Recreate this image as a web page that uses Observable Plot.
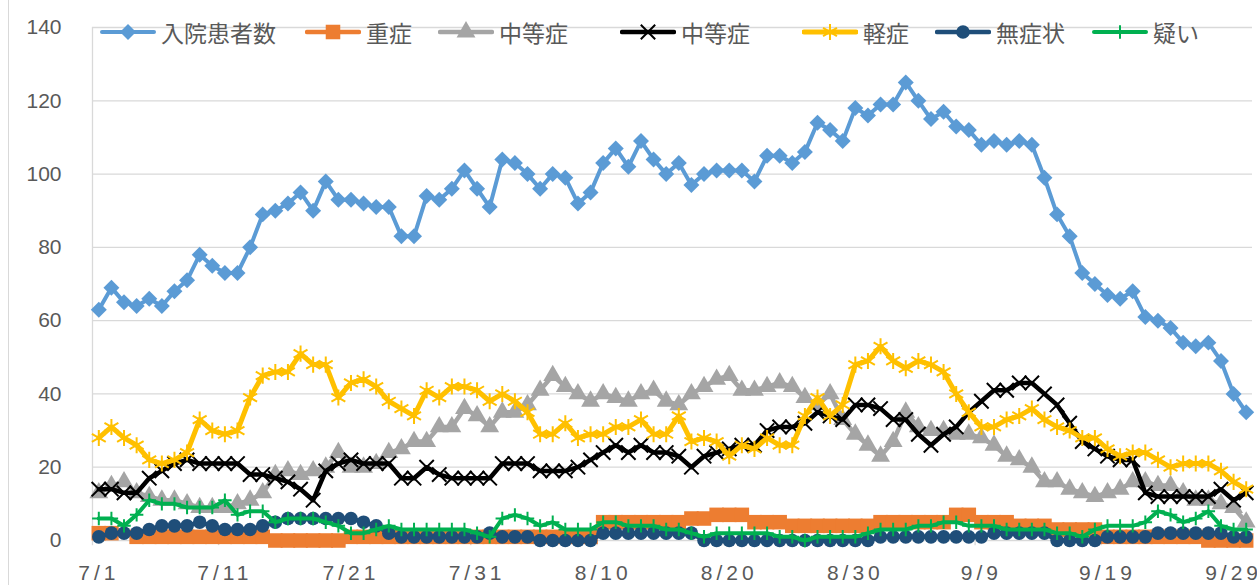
<!DOCTYPE html>
<html>
<head>
<meta charset="utf-8">
<script src="https://cdn.jsdelivr.net/npm/d3@7"></script>
<script src="https://cdn.jsdelivr.net/npm/@observablehq/plot@0.6"></script>
<style>
  html, body { margin: 0; padding: 0; background: #fff; }
  #wrap { position: relative; width: 1257px; height: 585px; overflow: hidden; font-family: "Liberation Sans", "Noto Sans CJK JP", sans-serif; }
  #frame { position: absolute; left: 8px; top: 0; width: 1.3px; height: 585px; background: #d9d9d9; }
  #legend { position: absolute; left: 0; top: 0; width: 1257px; height: 60px; }
  .item { position: absolute; top: 18px; height: 28px; display: flex; align-items: center; white-space: nowrap; }
  .item span { font-family: "Noto Sans CJK JP", sans-serif; font-size: 23px; color: #595959; margin-left: 5px; line-height: 28px; }
  svg [aria-label="x-axis tick label"] text { letter-spacing: 4px; }
</style>
</head>
<body>
<div id="wrap"><div id="frame"></div><div id="chart"></div><div id="legend"></div></div>
<script>
// ---- categories & ticks ----
const xTickLabels = ["7/1","7/11","7/21","7/31","8/10","8/20","8/30","9/9","9/19","9/29"];
const yTicks = [0,20,40,60,80,100,120,140];

// ---- series values (7/1 .. 9/30, daily) ----
const admitted = [63,69,65,64,66,64,68,71,78,75,73,73,80,89,90,92,95,90,98,93,93,92,91,91,83,83,94,93,96,101,96,91,104,103,100,96,100,99,92,95,103,107,102,109,104,100,103,97,100,101,101,101,98,105,105,103,106,114,112,109,118,116,119,119,125,120,115,117,113,112,108,109,108,109,108,99,89,83,73,70,67,66,68,61,60,58,54,53,54,49,40,35];
const severe = [2,2,null,1,1,1,1,1,1,1,1,1,1,1,0,0,0,0,0,0,1,1,1,1,1,1,1,1,1,1,1,1,1,1,1,1,1,1,1,1,5,5,5,5,5,5,5,6,6,7,7,7,5,5,5,4,4,4,4,4,4,4,5,5,5,5,5,5,7,7,5,5,5,4,4,4,3,3,3,3,1,1,1,1,1,1,1,1,0,0,0,0];
const moderateA = [13,15,16,13,12,11,11,10,9,9,9,10,11,13,18,19,18,19,20,24,20,20,21,24,25,27,27,31,31,36,34,31,35,35,37,41,45,42,40,38,40,39,38,40,41,38,37,40,42,44,45,41,41,42,43,42,39,37,40,33,29,26,23,27,35,31,30,30,29,29,28,26,23,22,20,16,16,14,13,12,13,14,16,16,15,15,13,11,11,10,9,5];
const moderateB = [14,14,13,13,17,19,21,22,21,21,21,21,18,18,17,16,14,11,19,21,22,21,21,21,17,17,20,18,17,17,17,17,21,21,21,19,19,19,20,22,24,26,24,26,24,24,23,20,23,24,25,26,26,30,31,31,32,35,34,33,37,37,36,33,33,29,26,29,31,35,38,41,41,43,43,40,37,32,27,25,23,22,22,13,12,12,12,12,12,14,11,13];
const mild = [28,31,28,26,22,21,22,24,33,30,29,30,39,45,46,46,51,48,48,39,43,44,42,38,36,34,41,39,42,42,41,38,40,38,35,29,29,32,28,29,29,31,31,33,29,29,34,27,28,27,23,26,25,28,26,26,34,39,34,37,48,49,53,49,47,49,48,46,40,35,31,31,33,34,36,33,31,30,28,28,25,23,24,24,22,20,21,21,21,19,16,14];
const asymptomatic = [1,2,2,2,3,4,4,4,5,4,3,3,3,4,5,6,6,6,6,6,6,5,4,2,1,1,1,1,1,1,1,2,1,1,1,0,0,0,0,0,2,2,2,2,2,2,2,2,0,0,0,0,0,0,0,0,0,0,0,0,0,0,1,1,1,1,1,1,1,1,1,2,2,2,2,2,0,0,0,0,1,1,1,1,2,2,2,2,2,2,1,1];
const suspected = [6,6,4,7,11,10,10,9,9,9,11,7,8,8,5,6,6,6,5,4,2,2,3,4,3,3,3,3,3,3,2,1,6,7,6,4,5,3,3,3,5,5,4,4,4,3,3,2,1,2,2,2,2,2,1,1,0,1,1,1,1,2,3,3,3,4,4,5,5,4,4,4,3,3,3,3,2,2,1,3,4,4,4,5,8,7,5,6,8,4,3,3];

const seriesNames = ["入院患者数","重症","中等症","中等症","軽症","無症状","疑い"];
const seriesValues = [admitted, severe, moderateA, moderateB, mild, asymptomatic, suspected];

// ---- styles (kept apart from data) ----
const styles = [
  {color:"#5B9BD5", symbol:"diamond2", r:7.2, width:4,   filled:true},
  {color:"#ED7D31", symbol:"square",   r:8.2, width:4.5, filled:true},
  {color:"#A5A5A5", symbol:"triangle", r:7.0, width:4.5, filled:true},
  {color:"#000000", symbol:"times",    r:6.6, width:4.5, filled:false, sw:2},
  {color:"#FFC000", symbol:"asterisk", r:7.6, width:5,   filled:false, sw:2},
  {color:"#1F4E79", symbol:"circle",   r:6.8, width:4.5, filled:true},
  {color:"#00B050", symbol:"plus",     r:4.4, width:4,   filled:false, sw:2}
];
const legendLeft = [100,305,438,620,802,935,1092];

const idx = (d, i) => i;
const marks = [
  Plot.ruleY(yTicks.filter(t => t > 0), {stroke:"#d9d9d9", strokeWidth:1.3}),
  Plot.ruleX([-0.5], {y1:-1.4, y2:140, stroke:"#d9d9d9", strokeWidth:1.3}),
  Plot.ruleY([0], {stroke:"#d9d9d9", strokeWidth:1.3}),
  Plot.ruleX(xTickLabels.map((_, k) => k * 10 + 9.5).filter(v => v < 91.5), {y1:0, y2:-1.4, stroke:"#d9d9d9", strokeWidth:1.3})
];
seriesValues.forEach((vals, k) => {
  const s = styles[k];
  marks.push(Plot.line(vals, {x: idx, y: d => d, stroke: s.color, strokeWidth: s.width, strokeLinejoin:"round", strokeLinecap:"round"}));
  marks.push(Plot.dot(vals, {x: idx, y: d => d, symbol: s.symbol, r: s.r,
    fill: s.filled ? s.color : "none", stroke: s.filled ? "none" : s.color, strokeWidth: s.sw || 0}));
});
marks.push(Plot.axisY({ticks: yTicks, tickSize: 0, tickPadding: 31, fontSize: 21, color: "#595959"}));
marks.push(Plot.axisX({ticks: xTickLabels.map((_, k) => k * 10), tickFormat: v => xTickLabels[v / 10], tickSize: 0, tickPadding: 25, fontSize: 21, color: "#595959"}));

const chart = Plot.plot({
  width: 1257, height: 585,
  marginLeft: 92, marginRight: 5, marginTop: 27, marginBottom: 45,
  x: {type: "linear", domain: [-0.5, 91.5], axis: null},
  y: {domain: [0, 140], axis: null},
  style: {fontFamily: '"Liberation Sans", "Noto Sans CJK JP", sans-serif', fontSize: "21px", background: "transparent", overflow: "visible"},
  marks
});
document.getElementById("chart").appendChild(chart);

// ---- legend (HTML, overlaid at top of plot) ----
const legend = document.getElementById("legend");
const symMap = {diamond2: d3.symbolDiamond2, square: d3.symbolSquare, triangle: d3.symbolTriangle, times: d3.symbolTimes, asterisk: d3.symbolAsterisk, circle: d3.symbolCircle, plus: d3.symbolPlus};
seriesNames.forEach((name, k) => {
  const s = styles[k];
  const item = document.createElement("div");
  item.className = "item";
  item.style.left = legendLeft[k] + "px";
  const ns = "http://www.w3.org/2000/svg";
  const svg = document.createElementNS(ns, "svg");
  svg.setAttribute("width", 56); svg.setAttribute("height", 28);
  const line = document.createElementNS(ns, "line");
  line.setAttribute("x1", 2); line.setAttribute("x2", 54); line.setAttribute("y1", 14); line.setAttribute("y2", 14);
  line.setAttribute("stroke", s.color); line.setAttribute("stroke-width", s.width); line.setAttribute("stroke-linecap", "round");
  svg.appendChild(line);
  const p = document.createElementNS(ns, "path");
  p.setAttribute("d", d3.symbol(symMap[s.symbol], Math.PI * s.r * s.r)());
  p.setAttribute("transform", "translate(28,14)");
  p.setAttribute("fill", s.filled ? s.color : "none");
  p.setAttribute("stroke", s.filled ? "none" : s.color);
  p.setAttribute("stroke-width", s.sw || 0);
  svg.appendChild(p);
  item.appendChild(svg);
  const t = document.createElement("span");
  t.textContent = name;
  item.appendChild(t);
  legend.appendChild(item);
});
</script>
</body>
</html>
